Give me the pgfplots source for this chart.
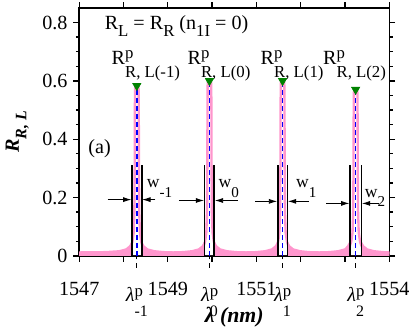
\documentclass[border=0pt]{standalone}
\usepackage{fontspec}
\setmainfont{Liberation Serif}
\usepackage{pgfplots}
\pgfplotsset{compat=1.18}
\usetikzlibrary{arrows.meta}
\definecolor{spk}{RGB}{255,150,205}
\definecolor{pgreen}{RGB}{0,130,0}
% raised / lowered small text
\newcommand{\rs}[3]{\raisebox{#1}{\fontsize{#2}{#2}\selectfont #3}}

\begin{document}
\begin{tikzpicture}[font=\fontsize{12}{14}\selectfont]
\begin{axis}[
    scale only axis,
    width=185pt, height=148pt,
    xmin=1547, xmax=1554,
    ymin=0, ymax=0.85,
    axis line style={line width=0.9pt},
    tick align=outside,
    tick style={black, line width=0.8pt},
    major tick length=3.5pt, minor tick length=2pt,
    xtick={1547,1548,...,1554},
    xticklabels={1547,,1549,,1551,,,1554},
    minor x tick num=1,
    ytick={0,0.2,0.4,0.6,0.8},
    minor y tick num=3,
    /pgf/number format/assume math mode=true,
    tick label style={font=\fontsize{12}{14}\selectfont},
    xticklabel style={anchor=base, yshift=-20pt},
    extra x ticks={1548.30,1549.94,1551.59,1553.24},
    extra x tick labels={
        \textit{λ}\rlap{\rs{3pt}{10}{p}}\rs{-9pt}{9.5}{-1},
        \textit{λ}\rlap{\rs{3pt}{10}{p}}\rs{-9pt}{9.5}{0},
        \textit{λ}\rlap{\rs{3pt}{10}{p}}\rs{-9pt}{9.5}{1},
        \textit{λ}\rlap{\rs{3pt}{10}{p}}\rs{-9pt}{9.5}{2}},
    extra x tick style={xtick pos=left, major tick length=7pt,
        tick style={densely dashed, line width=0.7pt}},
    xlabel={\fontsize{13}{15}\selectfont\bfseries\itshape λ (nm)},
    ylabel={\bfseries\itshape R\rs{-4.5pt}{9.5}{R, L}},
    xlabel style={at={(axis description cs:0.5,0)}, anchor=base, yshift=-40pt},
    ylabel style={at={(axis description cs:-0.195,0.5)}, anchor=base},
    clip=false,
]

% pink background near zero
\addplot[fill=spk, draw=none] coordinates {
    (1547.00,0.016) (1547.60,0.017) (1547.90,0.020) (1548.05,0.026) (1548.13,0.036) (1548.19,0.052) (1548.19,0)
    (1548.41,0) (1548.41,0.052) (1548.47,0.036) (1548.55,0.026) (1548.70,0.020) (1548.90,0.017) (1549.12,0.016)
    (1549.34,0.017) (1549.54,0.020) (1549.69,0.026) (1549.77,0.036) (1549.83,0.052) (1549.83,0)
    (1550.05,0) (1550.05,0.052) (1550.11,0.036) (1550.19,0.026) (1550.34,0.020) (1550.54,0.017) (1550.765,0.016)
    (1550.99,0.017) (1551.19,0.020) (1551.34,0.026) (1551.42,0.036) (1551.48,0.052) (1551.48,0)
    (1551.70,0) (1551.70,0.052) (1551.76,0.036) (1551.84,0.026) (1551.99,0.020) (1552.19,0.017) (1552.415,0.016)
    (1552.64,0.017) (1552.84,0.020) (1552.99,0.026) (1553.05,0.036) (1553.11,0.052) (1553.11,0)
    (1553.37,0) (1553.37,0.052) (1553.43,0.036) (1553.51,0.026) (1553.66,0.020) (1553.86,0.017) (1554.00,0.016)
} \closedcycle;

% pink spectrum
\addplot[spk, line width=1.4pt, line join=round] coordinates {
    (1547.00,0.008) (1547.50,0.009) (1547.80,0.010) (1547.95,0.013) (1548.05,0.018) (1548.12,0.025)
    (1548.17,0.035) (1548.20,0.048) (1548.23,0.080) (1548.245,0.150) (1548.252,0.300) (1548.255,0.480)
    (1548.26,0.573) (1548.27,0.583) (1548.33,0.583) (1548.34,0.573) (1548.345,0.480) (1548.348,0.300)
    (1548.355,0.150) (1548.37,0.080) (1548.40,0.048) (1548.43,0.035) (1548.48,0.025) (1548.55,0.018)
    (1548.65,0.013) (1548.80,0.010) (1549.12,0.009)
    (1549.44,0.010) (1549.59,0.013) (1549.69,0.018) (1549.76,0.025) (1549.81,0.035) (1549.84,0.048)
    (1549.87,0.080) (1549.885,0.150) (1549.892,0.300) (1549.895,0.490) (1549.90,0.590) (1549.91,0.600)
    (1549.97,0.600) (1549.98,0.590) (1549.985,0.490) (1549.988,0.300) (1549.995,0.150) (1550.01,0.080)
    (1550.04,0.048) (1550.07,0.035) (1550.12,0.025) (1550.19,0.018) (1550.29,0.013) (1550.44,0.010)
    (1550.765,0.009)
    (1551.09,0.010) (1551.24,0.013) (1551.34,0.018) (1551.41,0.025) (1551.46,0.035) (1551.49,0.048)
    (1551.52,0.080) (1551.535,0.150) (1551.542,0.300) (1551.545,0.490) (1551.55,0.590) (1551.56,0.600)
    (1551.62,0.600) (1551.63,0.590) (1551.635,0.490) (1551.638,0.300) (1551.645,0.150) (1551.66,0.080)
    (1551.69,0.048) (1551.72,0.035) (1551.77,0.025) (1551.84,0.018) (1551.94,0.013) (1552.09,0.010)
    (1552.415,0.009)
    (1552.74,0.010) (1552.89,0.013) (1552.99,0.018) (1553.06,0.025) (1553.11,0.035) (1553.14,0.048)
    (1553.17,0.080) (1553.185,0.150) (1553.192,0.300) (1553.195,0.465) (1553.20,0.560) (1553.21,0.570)
    (1553.27,0.570) (1553.28,0.560) (1553.285,0.465) (1553.288,0.300) (1553.295,0.150) (1553.31,0.080)
    (1553.34,0.048) (1553.37,0.035) (1553.42,0.025) (1553.49,0.018) (1553.59,0.013) (1553.74,0.010)
    (1554.00,0.009)
};

% blue dashed centre lines
\addplot[blue, line width=0.9pt, dash pattern=on 3pt off 1.8pt] coordinates {(1548.30,0) (1548.30,0.583)};
\addplot[blue, line width=0.9pt, dash pattern=on 3pt off 1.8pt] coordinates {(1549.94,0) (1549.94,0.600)};
\addplot[blue, line width=0.9pt, dash pattern=on 3pt off 1.8pt] coordinates {(1551.59,0) (1551.59,0.600)};
\addplot[blue, line width=0.9pt, dash pattern=on 3pt off 1.8pt] coordinates {(1553.24,0) (1553.24,0.570)};

% peak markers
\addplot[only marks, mark=triangle*, mark size=2.8pt,
    mark options={rotate=180, fill=pgreen, draw=pgreen}] coordinates {
    (1548.30,0.583) (1549.94,0.600) (1551.59,0.600) (1553.24,0.570)
};

% width bars
\addplot[black, line width=1pt] coordinates {(1548.19,0) (1548.19,0.31)};
\addplot[black, line width=1pt] coordinates {(1548.41,0) (1548.41,0.31)};
\addplot[black, line width=1pt] coordinates {(1549.83,0) (1549.83,0.31)};
\addplot[black, line width=1pt] coordinates {(1550.05,0) (1550.05,0.31)};
\addplot[black, line width=1pt] coordinates {(1551.48,0) (1551.48,0.31)};
\addplot[black, line width=1pt] coordinates {(1551.70,0) (1551.70,0.31)};
\addplot[black, line width=1pt] coordinates {(1553.11,0) (1553.11,0.31)};
\addplot[black, line width=1pt] coordinates {(1553.37,0) (1553.37,0.31)};

% arrows
\addplot[black, line width=0.5pt, -{Latex[length=5pt,width=3pt]}] coordinates {(1547.64,0.193) (1548.18,0.193)};
\addplot[black, line width=0.5pt, -{Latex[length=5pt,width=3pt]}] coordinates {(1548.72,0.193) (1548.42,0.193)};
\addplot[black, line width=0.5pt, -{Latex[length=5pt,width=3pt]}] coordinates {(1549.25,0.190) (1549.82,0.190)};
\addplot[black, line width=0.5pt, -{Latex[length=5pt,width=3pt]}] coordinates {(1550.58,0.190) (1550.06,0.190)};
\addplot[black, line width=0.5pt, -{Latex[length=5pt,width=3pt]}] coordinates {(1550.97,0.187) (1551.47,0.187)};
\addplot[black, line width=0.5pt, -{Latex[length=5pt,width=3pt]}] coordinates {(1552.18,0.187) (1551.71,0.187)};
\addplot[black, line width=0.5pt, -{Latex[length=5pt,width=3pt]}] coordinates {(1552.58,0.180) (1553.10,0.180)};
\addplot[black, line width=0.5pt, -{Latex[length=5pt,width=3pt]}] coordinates {(1553.77,0.180) (1553.38,0.180)};

% texts
\node[anchor=base west, inner sep=0pt] at (axis cs:1547.57,0.777)
    {R\rs{-4.5pt}{10}{L} = R\rs{-4.5pt}{10}{R} (n\rs{-4.5pt}{10}{1I} = 0)};
\node[anchor=base west, inner sep=0pt] at (axis cs:1547.20,0.350) {(a)};
\node[anchor=base west, inner sep=0pt] at (axis cs:1547.725,0.655) {R\rlap{\rs{3.5pt}{10}{p}}\rs{-7.5pt}{10}{R, L(-1)}};
\node[anchor=base west, inner sep=0pt] at (axis cs:1549.44,0.655) {R\rlap{\rs{3.5pt}{10}{p}}\rs{-7.5pt}{10}{R, L(0)}};
\node[anchor=base west, inner sep=0pt] at (axis cs:1551.09,0.655) {R\rlap{\rs{3.5pt}{10}{p}}\rs{-7.5pt}{10}{R, L(1)}};
\node[anchor=base west, inner sep=0pt] at (axis cs:1552.50,0.655) {R\rlap{\rs{3.5pt}{10}{p}}\rs{-7.5pt}{10}{R, L(2)}};
\node[anchor=base west, inner sep=0pt, font=\fontsize{10.5}{12}\selectfont] at (axis cs:1548.52,0.233) {w\rs{-5.5pt}{9}{-1}};
\node[anchor=base west, inner sep=0pt, font=\fontsize{10.5}{12}\selectfont] at (axis cs:1550.14,0.233) {w\rs{-5.5pt}{9}{0}};
\node[anchor=base west, inner sep=0pt, font=\fontsize{10.5}{12}\selectfont] at (axis cs:1551.89,0.233) {w\rs{-5.5pt}{9}{1}};
\node[anchor=base west, inner sep=0pt, font=\fontsize{10.5}{12}\selectfont] at (axis cs:1553.44,0.200) {w\rs{-5.5pt}{9}{2}};

\end{axis}
\path ([xshift=-45pt,yshift=-43pt]current axis.south west)
    rectangle ([xshift=13.4pt,yshift=4.7pt]current axis.north east);
\end{tikzpicture}
\end{document}
